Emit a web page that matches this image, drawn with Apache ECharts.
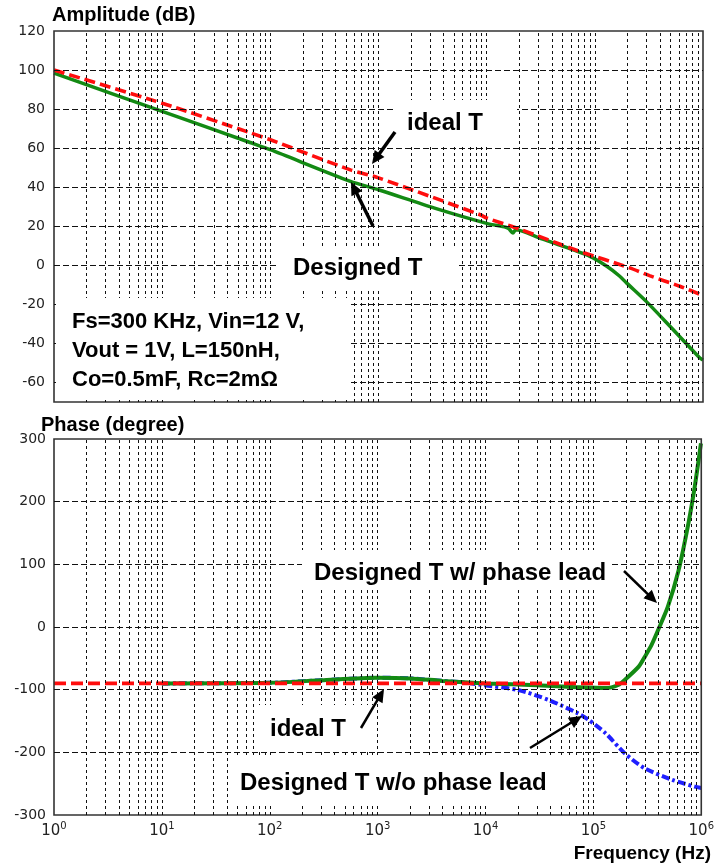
<!DOCTYPE html>
<html><head><meta charset="utf-8">
<script src="https://cdn.jsdelivr.net/npm/echarts@6/dist/echarts.min.js"></script>
<style>html,body{margin:0;padding:0;background:#fff}#c{width:717px;height:867px}</style>
</head><body><div id="c"></div>
<script>
// ---------- data ----------
const ampIdealFreq = [1, 10, 65, 100, 550, 1000, 8700, 10000, 20000, 72000, 210000, 320000, 610000, 1000000];
const ampIdealDb   = [100, 83, 67.9, 64.3, 48.9, 44.8, 25.9, 24.2, 18.6, 7.2, -1.3, -5.3, -10.7, -15.5];

const ampDesignFreq = [1, 10, 65, 100, 550, 1000, 3300, 10000, 15000, 16000, 17500, 18500, 31000, 38500, 90000, 129000, 170000, 196000, 300000, 495000, 930000, 1000000];
const ampDesignDb   = [98.4, 78.8, 62.9, 59.2, 43, 38.7, 29.3, 21.5, 19.5, 18.8, 16.5, 18.2, 14.0, 12.1, 4.6, -0.5, -5.6, -9, -18.6, -31.2, -47.3, -48.5];

const phIdealFreq = [1, 1000000];
const phIdealDeg  = [-90, -90];

const phLeadFreq = [10, 100, 300, 1000, 2000, 4000, 10000, 30000, 70000, 130000, 170000, 195000, 263000, 300000, 347000, 398000, 490000, 617000, 760000, 870000, 993000];
const phLeadDeg  = [-90, -89, -85, -81, -82, -86, -90, -93, -96, -97.5, -92.5, -84.6, -63.3, -47.3, -28, -4.8, 32.4, 91, 165.5, 224, 293];

const phNoLeadFreq = [10, 100, 300, 1000, 2000, 4000, 6000, 9300, 20000, 38500, 72000, 90000, 130000, 195000, 300000, 540000, 870000, 1000000];
const phNoLeadDeg  = [-90, -89, -85, -81, -82, -86, -88, -92.5, -100.5, -116.5, -137.8, -148, -169.7, -201.6, -225.6, -244, -254.8, -257];

const decadeTicks = [1, 10, 100, 1000, 10000, 100000, 1000000];
const ampTicks   = [-60, -40, -20, 0, 20, 40, 60, 80, 100, 120];
const phaseTicks = [-300, -200, -100, 0, 100, 200, 300];

// ---------- helpers ----------
const pairs = (xs, ys) => xs.map((x, i) => [x, ys[i]]);
const vGridFreqs = [];
decadeTicks.slice(0, -1).forEach(d => { for (let m = 1; m <= 9; m++) { const f = d * m; if (f > 1) vGridFreqs.push(f); } });

const GRID_LINE = { color: '#111', width: 1, type: [3, 3] };
const H_LINE = { color: '#111', width: 1, type: [6, 3] };
function gridSeries(xi, yi, yTicks, yMin, yMax) {
  const data = [];
  vGridFreqs.forEach(f => data.push({ xAxis: f, lineStyle: GRID_LINE }));
  yTicks.filter(v => v > yMin && v < yMax).forEach(v => data.push({ yAxis: v, lineStyle: H_LINE }));
  return {
    type: 'line', xAxisIndex: xi, yAxisIndex: yi, data: [], z: 1, silent: true,
    markLine: { silent: true, symbol: ['none', 'none'], label: { show: false }, animation: false, data: data }
  };
}

const GREEN = '#138a13', RED = '#ff0d0d', BLUE = '#1f1fff';
const TICK_FONT = { color: '#222', fontSize: 14, fontFamily: 'DejaVu Sans' };

const bold = (size) => ({ fontFamily: 'Liberation Sans, Arial, sans-serif', fontWeight: 'bold', fontSize: size, fill: '#000' });
function box(x, y, w, h) { return { type: 'rect', z: 100, shape: { x, y, width: w, height: h }, style: { fill: '#fff' }, silent: true }; }
function label(x, y, text, size, extra) {
  return { type: 'text', z: 101, x, y, style: Object.assign(bold(size), { text, textVerticalAlign: 'middle' }, extra || {}), silent: true };
}
function arrow(x1, y1, x2, y2, w) {
  const dx = x2 - x1, dy = y2 - y1, L = Math.hypot(dx, dy), ux = dx / L, uy = dy / L;
  const hl = 13, hw = 6;
  const bx = x2 - ux * hl, by = y2 - uy * hl;
  return [
    { type: 'line', z: 102, shape: { x1, y1, x2: bx + ux * 2, y2: by + uy * 2 }, style: { stroke: '#000', lineWidth: w }, silent: true },
    { type: 'polygon', z: 102, shape: { points: [[x2, y2], [bx - uy * hw, by + ux * hw], [bx + uy * hw, by - ux * hw]] }, style: { fill: '#000' }, silent: true }
  ];
}

const curve = (extra) => Object.assign({ type: 'line', showSymbol: false, smooth: 0.25 }, extra);

const chart = echarts.init(document.getElementById('c'), null, { renderer: 'canvas' });
chart.setOption({
  animation: false,
  backgroundColor: '#fff',
  grid: [
    { left: 54, top: 31, width: 649, height: 371, show: true, borderColor: '#333', borderWidth: 1.6, backgroundColor: 'transparent', z: 5 },
    { left: 54, top: 439, width: 649, height: 376, show: true, borderColor: '#333', borderWidth: 1.6, backgroundColor: 'transparent', z: 5 }
  ],
  xAxis: [
    { type: 'log', logBase: 10, gridIndex: 0, min: 1, max: 1000000, interval: 1,
      axisLine: { show: false }, axisTick: { show: false }, axisLabel: { show: false }, splitLine: { show: false } },
    { type: 'log', logBase: 10, gridIndex: 1, min: 1, max: 1000000, interval: 1,
      axisLine: { show: false }, axisTick: { show: false }, splitLine: { show: false },
      axisLabel: {
        margin: 6, hideOverlap: false, showMinLabel: true, showMaxLabel: true,
        formatter: v => '{b|10}{s|' + Math.round(Math.log10(v)) + '}',
        rich: {
          b: { fontSize: 15, fontFamily: 'DejaVu Sans', color: '#222', verticalAlign: 'bottom', lineHeight: 18 },
          s: { fontSize: 10, fontFamily: 'DejaVu Sans', color: '#222', verticalAlign: 'top', lineHeight: 18, padding: [0, 0, 9, 0] }
        }
      } }
  ],
  yAxis: [
    { type: 'value', gridIndex: 0, min: -70, max: 120, interval: 10,
      axisLine: { show: false }, axisTick: { show: false }, splitLine: { show: false },
      axisLabel: Object.assign({ margin: 9, showMinLabel: true, showMaxLabel: true, formatter: v => (ampTicks.indexOf(v) >= 0 ? String(v) : '') }, TICK_FONT) },
    { type: 'value', gridIndex: 1, min: -300, max: 300, interval: 100,
      axisLine: { show: false }, axisTick: { show: false }, splitLine: { show: false },
      axisLabel: Object.assign({ margin: 8, showMinLabel: true, showMaxLabel: true, formatter: v => (phaseTicks.indexOf(v) >= 0 ? String(v) : '') }, TICK_FONT) }
  ],
  series: [
    gridSeries(0, 0, ampTicks, -70, 120),
    curve({ name: 'Designed T', xAxisIndex: 0, yAxisIndex: 0, z: 3,
      data: pairs(ampDesignFreq, ampDesignDb), lineStyle: { color: GREEN, width: 3.5 } }),
    curve({ name: 'ideal T', xAxisIndex: 0, yAxisIndex: 0, z: 4,
      data: pairs(ampIdealFreq, ampIdealDb), lineStyle: { color: RED, width: 3.6, type: [11, 5] } }),
    gridSeries(1, 1, phaseTicks, -300, 300),
    curve({ name: 'Designed T w/o phase lead', xAxisIndex: 1, yAxisIndex: 1, z: 2,
      data: pairs(phNoLeadFreq, phNoLeadDeg), lineStyle: { color: BLUE, width: 4, type: [8, 3, 3, 3] } }),
    curve({ name: 'Designed T w/ phase lead', xAxisIndex: 1, yAxisIndex: 1, z: 3,
      data: pairs(phLeadFreq, phLeadDeg), lineStyle: { color: GREEN, width: 4 } }),
    curve({ name: 'ideal T phase', xAxisIndex: 1, yAxisIndex: 1, z: 4, smooth: false,
      data: pairs(phIdealFreq, phIdealDeg), lineStyle: { color: RED, width: 3.8, type: [12, 5] } })
  ],
  graphic: [].concat(
    [label(52, 15.5, 'Amplitude (dB)', 20), label(41, 425, 'Phase (degree)', 20),
     label(711, 854, 'Frequency (Hz)', 19, { textAlign: 'right' })],
    [box(393, 100, 124, 47), label(407, 123, 'ideal T', 24)],
    arrow(395, 132, 372, 164, 3.5),
    [box(278, 247, 179, 41), label(293, 268, 'Designed T', 24)],
    arrow(373, 226, 351, 182, 3.5),
    [box(56, 298, 294, 102), label(72, 351, 'Fs=300 KHz, Vin=12 V,\nVout = 1V, L=150nH,\nCo=0.5mF, Rc=2m\u03A9', 22, { lineHeight: 29 })],
    [box(302, 550, 310, 40), label(314, 573, 'Designed T w/ phase lead', 24)],
    arrow(624, 571, 657, 603, 2.5),
    [box(256, 705, 121, 45), label(270, 729, 'ideal T', 24)],
    arrow(361, 728, 384, 689, 2.5),
    [box(233, 758, 350, 45), label(240, 783, 'Designed T w/o phase lead', 24)],
    arrow(530, 748, 582, 716, 2.5)
  )
});
</script></body></html>
